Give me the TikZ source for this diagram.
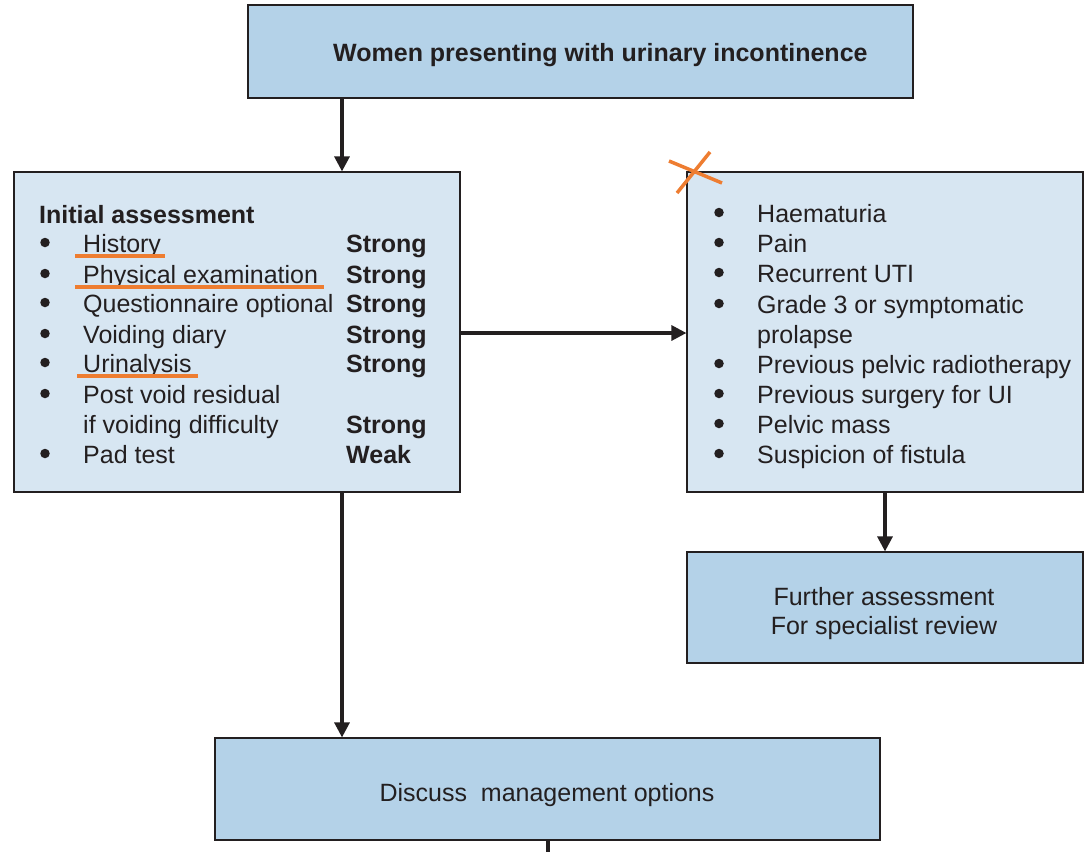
\documentclass[tikz,border=0pt]{standalone}
\usepackage{fontspec}
\setmainfont{Liberation Sans}
\usetikzlibrary{arrows.meta}
\definecolor{boxdark}{HTML}{B4D2E8}
\definecolor{boxlight}{HTML}{D7E6F2}
\definecolor{edgecol}{HTML}{231F20}
\definecolor{markcol}{HTML}{EE7D31}
\begin{document}
\begin{tikzpicture}[x=1pt,y=-1pt,
  box/.style={draw=edgecol, line width=2.2pt, inner sep=0pt},
  darkbox/.style={box, fill=boxdark},
  lightbox/.style={box, fill=boxlight},
  txt/.style={anchor=base west, inner sep=0pt, font=\fontsize{25}{30}\selectfont, text=edgecol},
  ctxt/.style={txt, anchor=base},
  btxt/.style={txt, font=\fontsize{25}{30}\selectfont\bfseries},
  bul/.style={circle, fill=edgecol, inner sep=0pt, minimum size=9.5pt},
  arr/.style={draw=edgecol, line width=3.2pt, -{Triangle[length=15pt,width=15pt]}, shorten >=-0.5pt},
  plain/.style={draw=edgecol, line width=3.2pt},
  hl/.style={draw=markcol, line width=4pt}
]
\useasboundingbox (0,0) rectangle (1092,852);

% boxes
\node[darkbox, minimum width=665pt, minimum height=93pt] (top) at (580.5,51.5) {};
\node[lightbox, minimum width=446pt, minimum height=320pt] (left) at (237,332) {};
\node[lightbox, minimum width=396pt, minimum height=320pt] (right) at (885,332) {};
\node[darkbox, minimum width=396pt, minimum height=111pt] (further) at (885,607.5) {};
\node[darkbox, minimum width=665pt, minimum height=102pt] (discuss) at (547.5,789) {};

% helper coordinates
\coordinate (cx1) at (342,0);
\coordinate (cy1) at (0,333);
\coordinate (cx2) at (548,0);
\coordinate (bottomend) at (548,852);

% connectors
\draw[arr] (top.south -| cx1) -- (left.north -| cx1);
\draw[arr] (left.east |- cy1) -- (right.west |- cy1);
\draw[arr] (right.south) -- (further.north);
\draw[arr] (left.south -| cx1) -- (discuss.north -| cx1);
\draw[plain] (discuss.south -| cx2) -- (bottomend);

% title
\node[btxt] (ttl) at (333,61) {Women presenting with urinary incontinence};

% left box text
\node[btxt] (ia) at (39,223) {Initial assessment};
\foreach \y in {252,283,312,343,372,403,463}{
  \node[bul] at (45,\y-9.5) {};
}
\node[txt] (l1) at (83,252) {History};
\node[txt] (l2) at (83,283) {Physical examination};
\node[txt] (l3) at (83,312) {Questionnaire optional};
\node[txt] (l4) at (83,343) {Voiding diary};
\node[txt] (l5) at (83,372) {Urinalysis};
\node[txt] (l6) at (83,403) {Post void residual};
\node[txt] (l7) at (83,433) {if voiding difficulty};
\node[txt] (l8) at (83,463) {Pad test};
\foreach \y in {252,283,312,343,372,433}{
  \node[btxt] at (346,\y) {Strong};
}
\node[btxt] (wk) at (346,463) {Weak};

% right box text
\foreach \y in {222,252,282,313,373,403,433,463}{
  \node[bul] at (719,\y-9.5) {};
}
\node[txt] (r1) at (757,222) {Haematuria};
\node[txt] (r2) at (757,252) {Pain};
\node[txt] (r3) at (757,282) {Recurrent UTI};
\node[txt] (r4) at (757,313) {Grade 3 or symptomatic};
\node[txt] (r5) at (757,343) {prolapse};
\node[txt] (r6) at (757,373) {Previous pelvic radiotherapy};
\node[txt] (r7) at (757,403) {Previous surgery for UI};
\node[txt] (r8) at (757,433) {Pelvic mass};
\node[txt] (r9) at (757,463) {Suspicion of fistula};

% further / discuss text
\node[ctxt] (f1) at (884,605) {Further assessment};
\node[ctxt] (f2) at (884,634) {For specialist review};
\node[ctxt] (d1) at (547,801) {Discuss\ \ management options};

% orange annotations
\draw[hl] (75,256) -- (165,256);
\draw[hl] (75,287) -- (324,287);
\draw[hl] (77,376) -- (198,376);
\draw[hl, line width=3.5pt] (669,161) -- (722,183);
\draw[hl, line width=3.5pt] (710,152) -- (677,193);
\end{tikzpicture}
\end{document}
